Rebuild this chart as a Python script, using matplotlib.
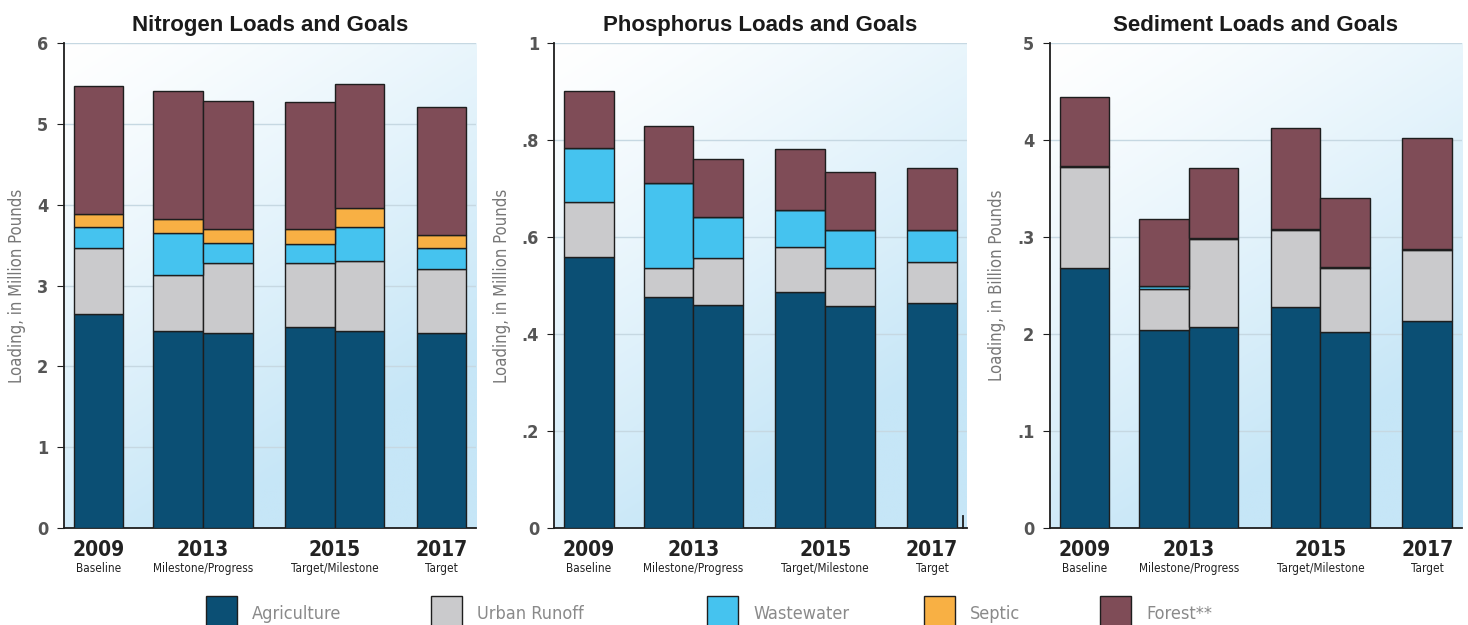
import numpy as np
import matplotlib
matplotlib.use("Agg")
import matplotlib.pyplot as plt
from matplotlib.patches import Rectangle
from matplotlib.transforms import blended_transform_factory

# bar groups
years = ["2009", "2013", "2015", "2017"]
year_notes = ["Baseline", "Milestone/Progress", "Target/Milestone", "Target"]
sources = ["Agriculture", "Urban Runoff", "Wastewater", "Septic", "Forest**"]

# Nitrogen, million pounds (6 bars)
nitrogen_ag = [2.65, 2.44, 2.41, 2.49, 2.44, 2.42]
nitrogen_urban = [0.81, 0.69, 0.87, 0.79, 0.87, 0.79]
nitrogen_ww = [0.26, 0.525, 0.25, 0.24, 0.41, 0.25]
nitrogen_septic = [0.165, 0.175, 0.17, 0.18, 0.24, 0.17]
nitrogen_forest = [1.585, 1.58, 1.59, 1.57, 1.54, 1.58]

# Phosphorus, million pounds
phos_ag = [0.559, 0.476, 0.460, 0.487, 0.457, 0.465]
phos_urban = [0.114, 0.060, 0.096, 0.092, 0.079, 0.084]
phos_ww = [0.110, 0.175, 0.086, 0.077, 0.079, 0.066]
phos_septic = [0, 0, 0, 0, 0, 0]
phos_forest = [0.119, 0.119, 0.119, 0.125, 0.119, 0.127]

# Sediment, billion pounds
sed_ag = [2.68, 2.045, 2.07, 2.28, 2.02, 2.14]
sed_urban = [1.045, 0.417, 0.91, 0.795, 0.665, 0.723]
sed_ww = [0.01, 0.03, 0.01, 0.01, 0.01, 0.01]
sed_septic = [0, 0, 0, 0, 0, 0]
sed_forest = [0.705, 0.70, 0.725, 1.04, 0.705, 1.147]

nitrogen_ticks = ["0", "1", "2", "3", "4", "5", "6"]
phos_ticks = ["0", ".2", ".4", ".6", ".8", "1"]
sed_ticks = ["0", ".1", "2", ".3", "4", "5"]

colors = ["#0b4f74", "#cacacc", "#45c3ef", "#f8b044", "#7f4c57"]
edge = "#1e1e1e"

plt.rcParams["font.family"] = ["Liberation Sans", "DejaVu Sans"]
cond = dict(family="DejaVu Sans", fontstretch="condensed")

bar_x = [0.7, 2.3, 3.3, 4.95, 5.95, 7.6]
group_x = [0.7, 2.8, 5.45, 7.6]

fig = plt.figure(figsize=(14.68, 6.25), dpi=100)

panels = [
    ("Nitrogen Loads and Goals", "Loading, in Million Pounds",
     [nitrogen_ag, nitrogen_urban, nitrogen_ww, nitrogen_septic, nitrogen_forest],
     np.arange(0, 7), nitrogen_ticks, 6, 0.0434),
    ("Phosphorus Loads and Goals", "Loading, in Million Pounds",
     [phos_ag, phos_urban, phos_ww, phos_septic, phos_forest],
     np.arange(0, 1.01, 0.2), phos_ticks, 1, 0.3776),
    ("Sediment Loads and Goals", "Loading, in Billion Pounds",
     [sed_ag, sed_urban, sed_ww, sed_septic, sed_forest],
     np.arange(0, 6), sed_ticks, 5, 0.715),
]

# background gradient: white top-left to light blue bottom/right
gx, gy = np.meshgrid(np.linspace(0, 1, 200), np.linspace(1, 0, 200))
t = np.clip((1 - gy) * 0.85 + gx * 0.45, 0, 1) ** 1.2
c0 = np.array([1.0, 1.0, 1.0])
c1 = np.array([198, 230, 247]) / 255
grad = c0 * (1 - t[..., None]) + c1 * t[..., None]

for i, (title, ylabel, stacks, yt, ytl, ymax, left) in enumerate(panels):
    ax = fig.add_axes([left, 0.155, 0.281, 0.776])
    ax.imshow(grad, extent=[0, 1, 0, 1], transform=ax.transAxes,
              aspect="auto", zorder=0)
    bottom = np.zeros(len(bar_x))
    for vals, col in zip(stacks, colors):
        ax.bar(bar_x, vals, width=1.0, bottom=bottom, color=col,
               edgecolor=edge, linewidth=1.0, zorder=3)
        bottom += np.array(vals)
    ax.set_xlim(0, 8.3)
    ax.set_ylim(0, ymax)
    ax.set_yticks(yt)
    ax.set_yticklabels(ytl, fontsize=13, color="#555555", fontweight="bold", **cond)
    ax.yaxis.grid(True, color="#c6d8e2", linewidth=1.0, zorder=1)
    ax.set_axisbelow(True)
    ax.set_xticks([])
    ax.tick_params(axis="y", direction="out", length=5, color=edge, pad=6)
    for s in ["top", "right"]:
        ax.spines[s].set_visible(False)
    for s in ["left", "bottom"]:
        ax.spines[s].set_color(edge)
        ax.spines[s].set_linewidth(1.3)
    ax.set_title(title, fontsize=16, fontweight="bold", color="#1a1a1a", pad=9)
    ax.set_ylabel(ylabel, fontsize=12, color="#777777", labelpad=8, **cond)
    if i == 1:
        ax.plot([0.99, 0.99], [0, 0.025], transform=ax.transAxes,
                color=edge, linewidth=1.3, clip_on=False, zorder=4)
    tr = blended_transform_factory(ax.transData, ax.transAxes)
    for x, yr, note in zip(group_x, years, year_notes):
        ax.text(x, -0.024, yr, transform=tr, ha="center", va="top",
                fontsize=15, fontweight="bold", color="#222222", **cond)
        ax.text(x, -0.07, note, transform=tr, ha="center", va="top",
                fontsize=8.5, color="#222222", **cond)

# legend along the bottom edge
patch_x = [206, 431, 707, 924, 1100]
for px, col, name in zip(patch_x, colors, sources):
    fig.patches.append(Rectangle((px / 1468, -0.01), 31 / 1468, 0.057,
                                 transform=fig.transFigure, facecolor=col,
                                 edgecolor=edge, linewidth=1.0))
    fig.text((px + 46) / 1468, 0.018, name, fontsize=13, color="#8a8a8a",
             va="center", **cond)

fig.savefig("out.png", dpi=100)
